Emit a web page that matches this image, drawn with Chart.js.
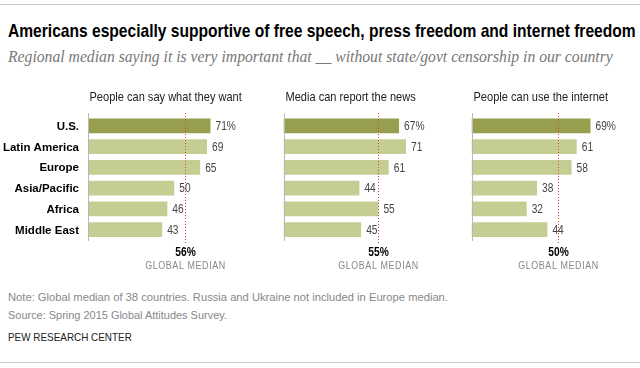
<!DOCTYPE html>
<html>
<head>
<meta charset="utf-8">
<script src="https://cdn.jsdelivr.net/npm/chart.js@4.4.0/dist/chart.umd.min.js"></script>
<style>
  body { margin: 0; width: 640px; height: 368px; background: #fff; position: relative; overflow: hidden;
         font-family: Arial, "Liberation Sans", sans-serif; }
  .rule { position: absolute; left: 0; width: 640px; height: 1px; background: #c8c8c8; }
  .txt { position: absolute; white-space: nowrap; transform-origin: 0 0; line-height: 13px; }
  canvas { position: absolute; top: 85px; }
</style>
</head>
<body>
<div class="rule" style="top:4px"></div>
<div class="txt fit" data-w="628" style="left:8px;top:21px;font-size:19px;line-height:19px;font-weight:bold;color:#000">Americans especially supportive of free speech, press freedom and internet freedom</div>
<div class="txt" style="left:8px;top:48px;font-size:15.7px;line-height:17px;font-style:italic;color:#777;font-family:'Liberation Serif',serif">Regional median saying it is very important that __ without state/govt censorship in our country</div>

<canvas id="c1" width="265" height="190" style="left:0px"></canvas>
<canvas id="c2" width="180" height="190" style="left:270px"></canvas>
<canvas id="c3" width="180" height="190" style="left:458px"></canvas>

<div class="txt fit" data-w="440" style="left:8px;top:291px;font-size:11.5px;color:#888">Note: Global median of 38 countries. Russia and Ukraine not included in Europe median.</div>
<div class="txt fit" data-w="219" style="left:8px;top:309px;font-size:11.5px;color:#888">Source: Spring 2015 Global Attitudes Survey.</div>
<div class="txt fit" data-w="124" style="left:8px;top:331px;font-size:11.5px;color:#222">PEW RESEARCH CENTER</div>
<div class="rule" style="top:362px"></div>

<script>
// data
const regions = ['U.S.', 'Latin America', 'Europe', 'Asia/Pacific', 'Africa', 'Middle East'];
const panelTitles = ['People can say what they want', 'Media can report the news', 'People can use the internet'];
const speech = [71, 69, 65, 50, 46, 43];
const press = [67, 71, 61, 44, 55, 45];
const internet = [69, 61, 58, 38, 32, 44];
const medians = [56, 55, 50];

const DARK = '#979f4f';
const LIGHT = '#c6cd93';
const X_MAX = 90;
const SX = 0.85; // horizontal squeeze to mimic the narrow font
const FONT = 'Arial, "Liberation Sans", sans-serif';

// squeeze html text blocks to their measured widths
document.querySelectorAll('.fit').forEach(el => {
  el.style.transform = 'scaleX(' + (el.dataset.w / el.scrollWidth) + ')';
});

// layout of each panel: canvas padding to the zero line
const panels = [
  { id: 'c1', padLeft: 88, padRight: 21.75, values: speech, cats: true },
  { id: 'c2', padLeft: 13.5, padRight: 11.25, values: press, cats: false },
  { id: 'c3', padLeft: 13.5, padRight: 11.25, values: internet, cats: false }
];

function narrowText(ctx, text, x, y, align, sx) {
  ctx.save();
  ctx.translate(x, y);
  ctx.scale(sx || SX, 1);
  ctx.textAlign = align;
  ctx.fillText(text, 0, 0);
  ctx.restore();
}

const panelPlugin = {
  id: 'panel',
  afterDatasetsDraw(chart, args, opts) {
    const ctx = chart.ctx;
    const xs = chart.scales.x;
    const a = chart.chartArea;
    const x0 = Math.round(xs.getPixelForValue(0)) + 0.5;
    const xm = Math.round(xs.getPixelForValue(opts.median)) + 0.5;
    ctx.save();
    ctx.textBaseline = 'middle';

    // baseline
    ctx.strokeStyle = '#b8b8b8';
    ctx.lineWidth = 1;
    ctx.beginPath();
    ctx.moveTo(x0, 28);
    ctx.lineTo(x0, a.bottom + 1);
    ctx.stroke();

    // median line
    ctx.strokeStyle = '#d8453b';
    ctx.setLineDash([1, 2]);
    ctx.beginPath();
    ctx.moveTo(xm, 28);
    ctx.lineTo(xm, 160);
    ctx.stroke();
    ctx.setLineDash([]);

    // value labels
    const meta = chart.getDatasetMeta(0);
    ctx.font = '12px ' + FONT;
    ctx.fillStyle = '#444';
    meta.data.forEach((bar, i) => {
      const v = chart.data.datasets[0].data[i];
      narrowText(ctx, v + (i === 0 ? '%' : ''), bar.x + 5, bar.y + 1, 'left');
    });

    // category labels
    if (opts.cats) {
      ctx.font = 'bold 11.5px ' + FONT;
      ctx.fillStyle = '#000';
      meta.data.forEach((bar, i) => {
        narrowText(ctx, chart.data.labels[i], 79, bar.y + 1, 'right', 1);
      });
    }

    // panel title
    ctx.font = '13px ' + FONT;
    ctx.fillStyle = '#222';
    narrowText(ctx, opts.title, x0 + 1, 12, 'left');

    // median labels
    ctx.font = 'bold 12px ' + FONT;
    ctx.fillStyle = '#000';
    narrowText(ctx, opts.median + '%', xm, 168, 'center');
    ctx.font = '10.5px ' + FONT;
    ctx.fillStyle = '#888';
    ctx.letterSpacing = '0.7px';
    narrowText(ctx, 'GLOBAL MEDIAN', xm, 181, 'center');
    ctx.restore();
  }
};

panels.forEach((p, k) => {
  new Chart(document.getElementById(p.id), {
    type: 'bar',
    data: {
      labels: regions,
      datasets: [{
        data: p.values,
        backgroundColor: p.values.map((v, i) => i === 0 ? DARK : LIGHT),
        barPercentage: 0.71,
        categoryPercentage: 1
      }]
    },
    options: {
      indexAxis: 'y',
      responsive: false,
      animation: false,
      layout: { padding: { left: p.padLeft, right: p.padRight, top: 30.4, bottom: 35 } },
      scales: {
        x: { display: false, min: 0, max: X_MAX },
        y: { display: false }
      },
      plugins: {
        legend: { display: false },
        tooltip: { enabled: false },
        panel: { median: medians[k], title: panelTitles[k], cats: p.cats }
      }
    },
    plugins: [panelPlugin]
  });
});
</script>
</body>
</html>
